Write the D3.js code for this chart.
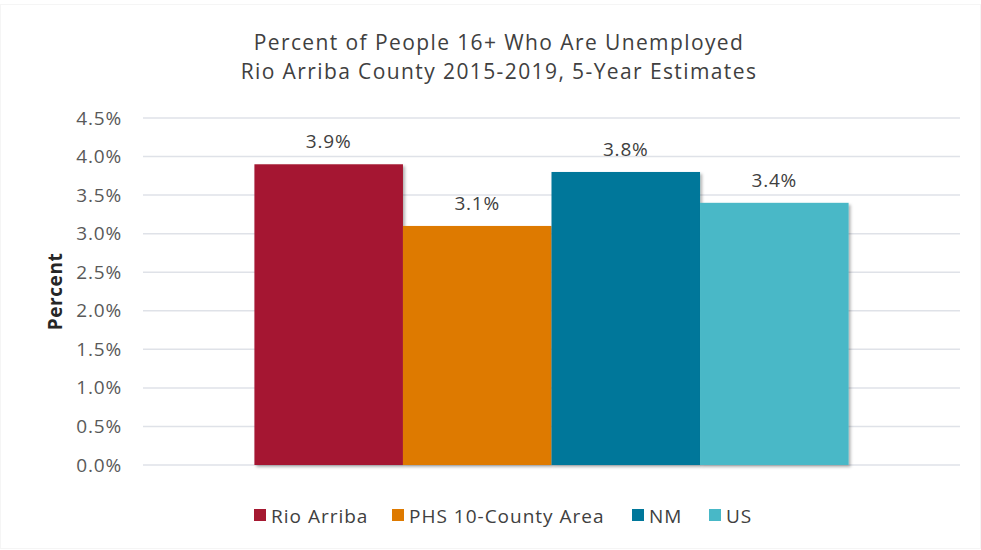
<!DOCTYPE html>
<html>
<head>
<meta charset="utf-8">
<script src="https://cdn.jsdelivr.net/npm/d3@7"></script>
<style>
  body { margin: 0; background: #fff; }
  text { font-family: "Open Sans", Lato, sans-serif; }
</style>
</head>
<body>
<div class="chart"></div>
<script>
// data
const categories = ['Rio Arriba', 'PHS 10-County Area', 'NM', 'US'];
const values = [3.9, 3.1, 3.8, 3.4];
const colors = ['#A51931', '#DE7A00', '#00779A', '#48B8C7'];
const yTicks = [0, 0.5, 1.0, 1.5, 2.0, 2.5, 3.0, 3.5, 4.0, 4.5];
const titleLines = ['Percent of People 16+ Who Are Unemployed', 'Rio Arriba County 2015-2019, 5-Year Estimates'];

const width = 981, height = 550;
const margin = {top: 118, right: 21, bottom: 85, left: 143};
const graphWidth = width - margin.left - margin.right;
const graphHeight = height - margin.top - margin.bottom;

const svg = d3.select('.chart')
  .append('svg')
    .attr('width', width)
    .attr('height', height);

// soft drop shadow like the office chart
const defs = svg.append('defs');
const filter = defs.append('filter')
  .attr('id', 'shadow')
  .attr('x', '-5%').attr('y', '-5%')
  .attr('width', '115%').attr('height', '115%');
filter.append('feDropShadow')
  .attr('dx', 2).attr('dy', 2)
  .attr('stdDeviation', 1.5)
  .attr('flood-color', '#000')
  .attr('flood-opacity', 0.3);

// faint frame of the chart area
svg.append('rect')
  .attr('x', 0.5).attr('y', 4.5)
  .attr('width', width - 1).attr('height', height - 6)
  .attr('fill', 'none')
  .attr('stroke', '#f5f5f5');

const graph = svg.append('g')
  .attr('transform', `translate(${margin.left}, ${margin.top})`);

const y = d3.scaleLinear()
  .domain([0, 4.5])
  .range([graphHeight, 0]);

const x = d3.scaleBand()
  .domain(categories)
  .range([0, graphWidth])
  .paddingInner(0)
  .paddingOuter(0.75);

// gridlines
graph.append('g')
  .selectAll('line')
  .data(yTicks)
  .enter().append('line')
    .attr('x1', 0)
    .attr('x2', graphWidth)
    .attr('y1', d => y(d))
    .attr('y2', d => y(d))
    .attr('stroke', '#dfe2e8')
    .attr('stroke-width', 1.5);

// y axis labels
const yAxis = d3.axisLeft(y)
  .tickValues(yTicks)
  .tickSize(0)
  .tickPadding(21)
  .tickFormat(d => d3.format('.1f')(d) + '%');

const yAxisGroup = graph.append('g').call(yAxis);
yAxisGroup.select('.domain').remove();
yAxisGroup.selectAll('text')
  .attr('fill', '#595959')
  .style('font-size', '19px')
  .style('letter-spacing', '0.8px');

// bars
graph.selectAll('rect.bar')
  .data(values)
  .enter().append('rect')
    .attr('class', 'bar')
    .attr('x', (d, i) => x(categories[i]))
    .attr('width', x.bandwidth())
    .attr('y', d => y(d))
    .attr('height', d => graphHeight - y(d))
    .attr('fill', (d, i) => colors[i])
    .attr('filter', 'url(#shadow)');

// value labels
graph.selectAll('text.val')
  .data(values)
  .enter().append('text')
    .attr('class', 'val')
    .attr('x', (d, i) => x(categories[i]) + x.bandwidth() / 2)
    .attr('y', d => y(d) - 16)
    .attr('text-anchor', 'middle')
    .attr('fill', '#404040')
    .style('font-size', '19px')
    .style('letter-spacing', '0.8px')
    .text(d => d.toFixed(1) + '%');

// axis title
svg.append('text')
  .attr('transform', `translate(62, ${margin.top + graphHeight / 2}) rotate(-90)`)
  .attr('text-anchor', 'middle')
  .attr('fill', '#262626')
  .style('font-size', '19px')
  .style('font-weight', 'bold')
  .style('letter-spacing', '0.6px')
  .text('Percent');

// title
svg.append('g').selectAll('text')
  .data(titleLines)
  .enter().append('text')
    .attr('x', 499)
    .attr('y', (d, i) => 50 + i * 29)
    .attr('text-anchor', 'middle')
    .attr('fill', '#404040')
    .style('font-size', '21px')
    .style('letter-spacing', '1.4px')
    .text(d => d);

// legend
const legendX = [254, 392, 632, 709];
const legend = svg.append('g');
const items = legend.selectAll('g')
  .data(categories)
  .enter().append('g')
    .attr('transform', (d, i) => `translate(${legendX[i]}, 515)`);
items.append('rect')
  .attr('x', 0).attr('y', -6)
  .attr('width', 12).attr('height', 12)
  .attr('fill', (d, i) => colors[i]);
items.append('text')
  .attr('x', 17)
  .attr('y', 7.5)
  .attr('fill', '#404040')
  .style('font-size', '19px')
  .style('letter-spacing', '1px')
  .text(d => d);
</script>
</body>
</html>
